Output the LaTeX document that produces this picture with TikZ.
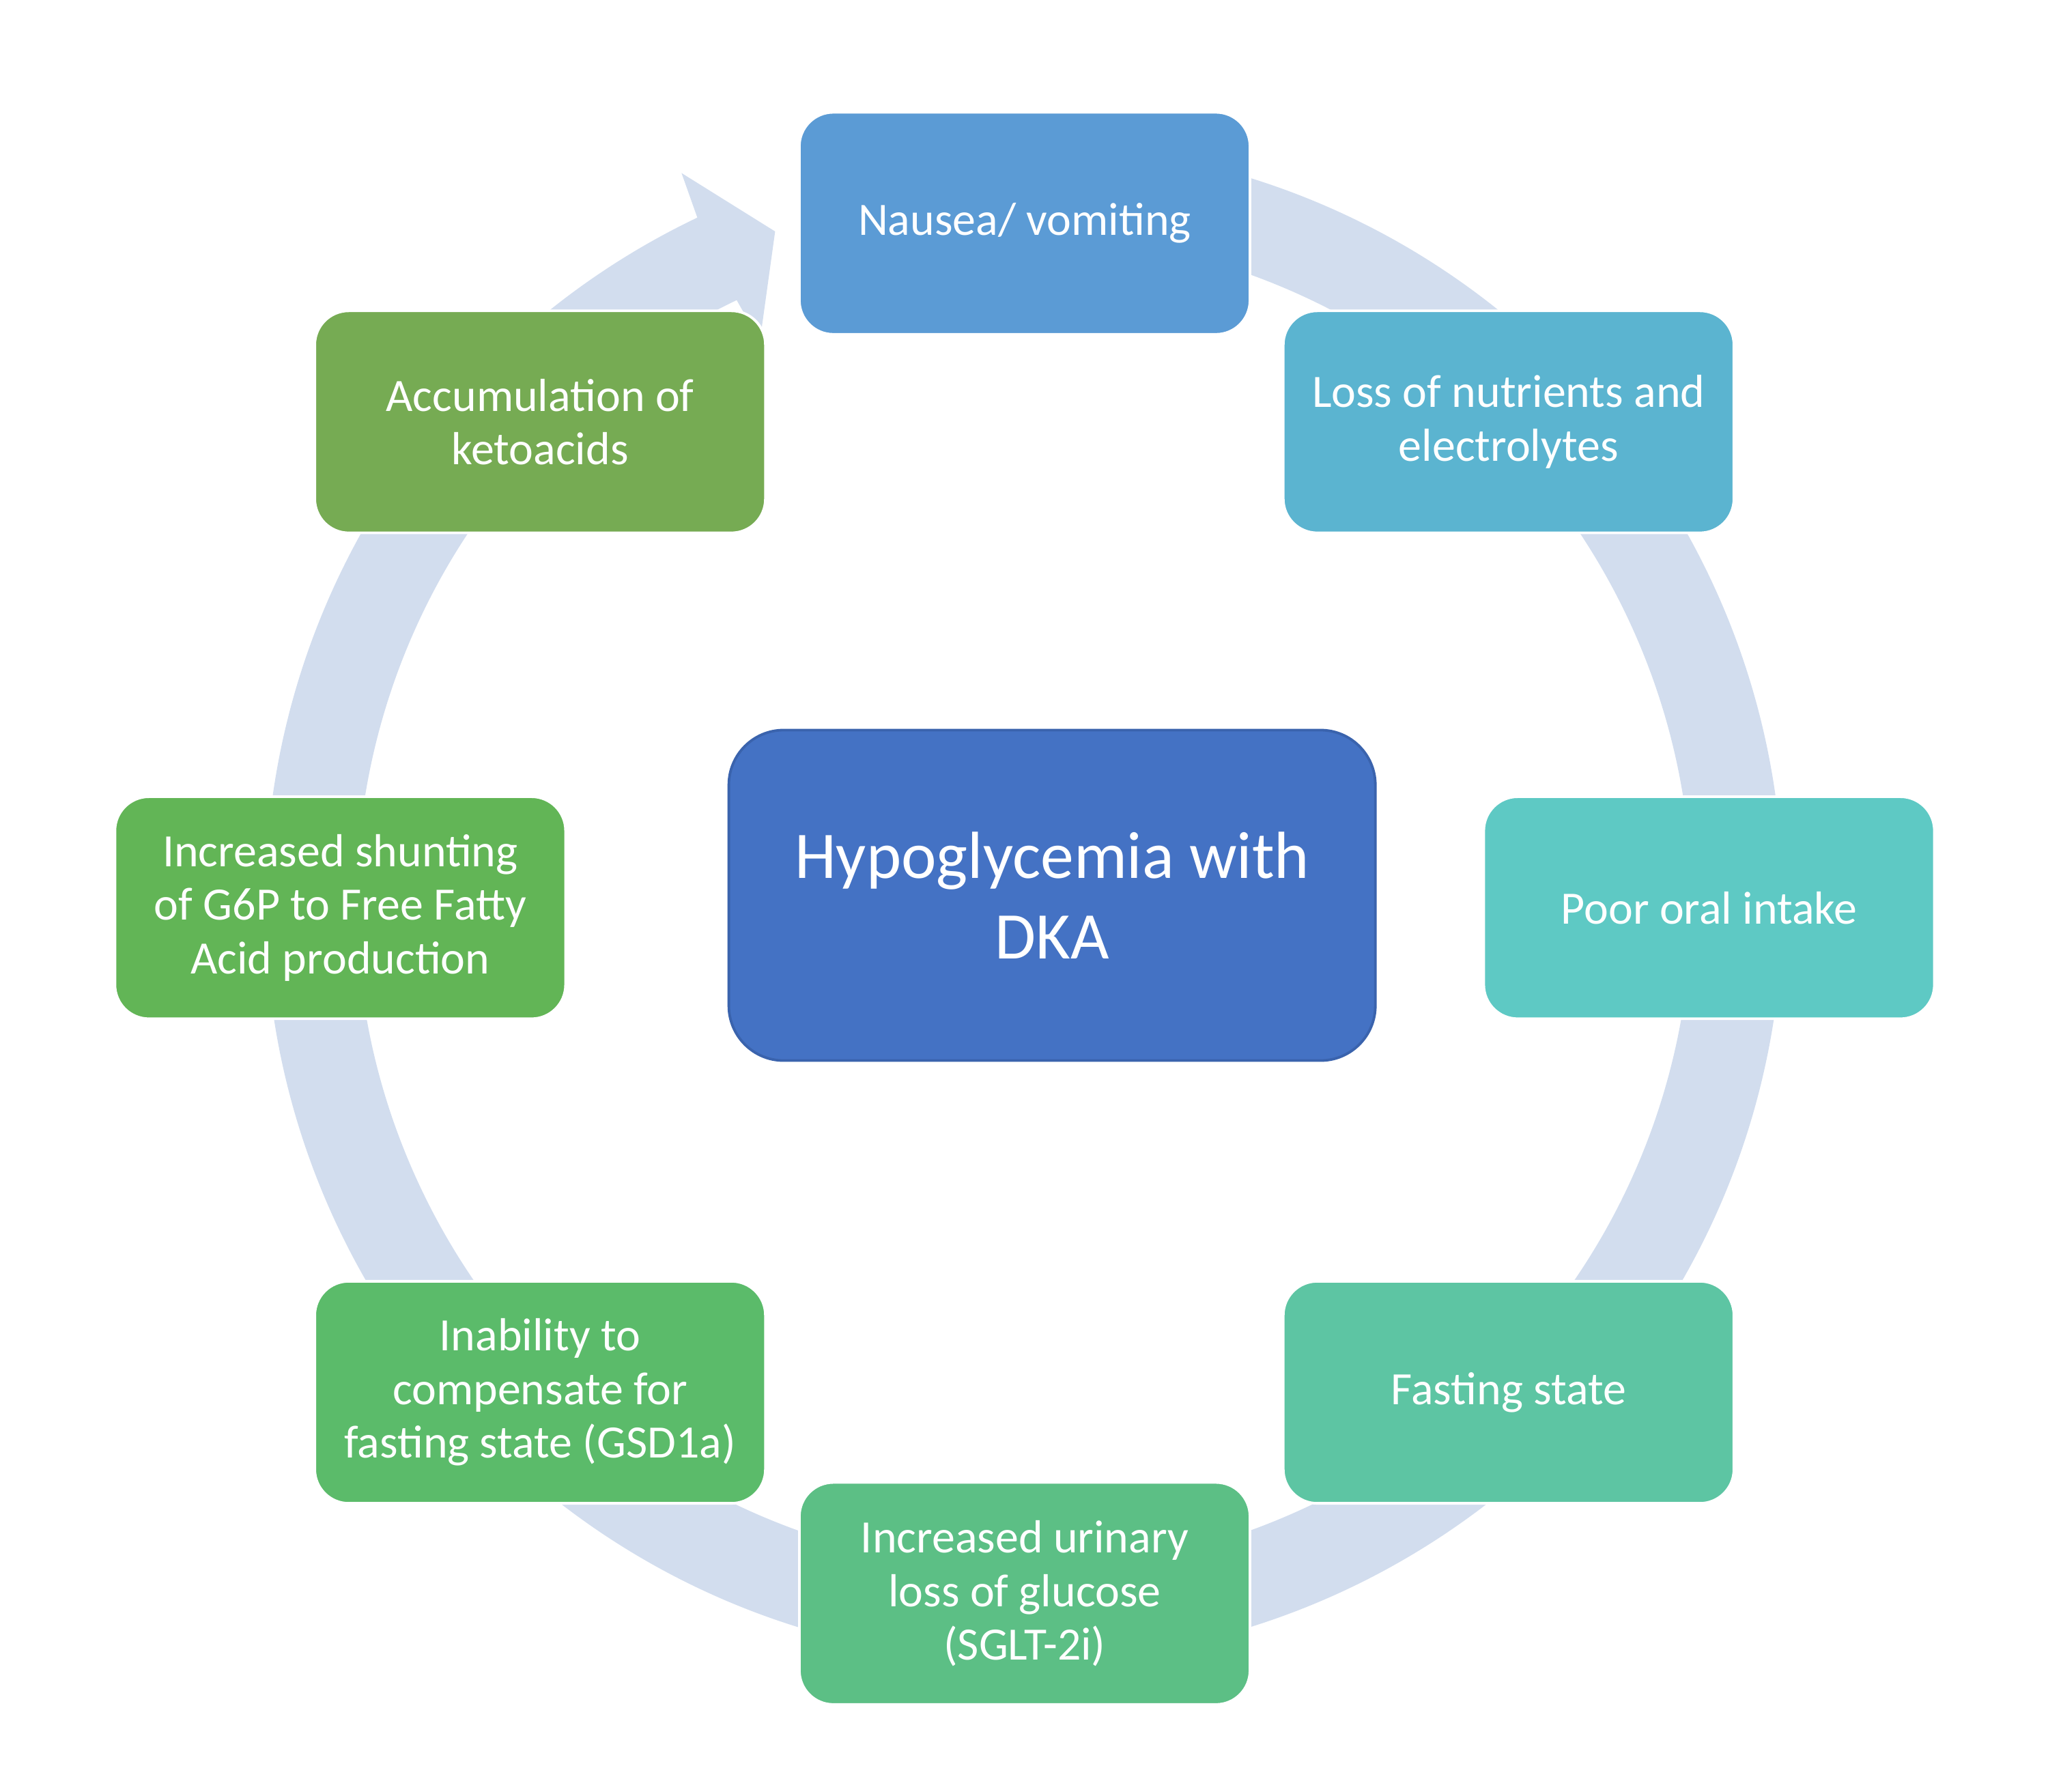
\documentclass[tikz,border=0pt]{standalone}
\usepackage{fontspec}
\setmainfont{Carlito}
\definecolor{ringc}{HTML}{D2DDEE}
\definecolor{cNausea}{HTML}{5B9BD5}
\definecolor{cLoss}{HTML}{5BB4D0}
\definecolor{cPoor}{HTML}{5EC9C4}
\definecolor{cFast}{HTML}{5DC5A3}
\definecolor{cUrin}{HTML}{5CBF85}
\definecolor{cInab}{HTML}{5BBB6A}
\definecolor{cShunt}{HTML}{62B556}
\definecolor{cAccum}{HTML}{76AB53}
\definecolor{cCenter}{HTML}{4472C4}
\definecolor{cCenterB}{HTML}{3A63AD}
\tikzset{
  cycbox/.style={rectangle, rounded corners=26pt, minimum width=345pt, minimum height=170pt,
    inner sep=0pt, text=white, align=center, draw=white, line width=2pt,
    font=\fontsize{35.5}{41}\selectfont},
  hubbox/.style={rectangle, rounded corners=42pt, minimum width=495pt, minimum height=253pt,
    inner sep=0pt, text=white, align=center, fill=cCenter, draw=cCenterB, line width=2pt,
    font=\fontsize{51}{62}\selectfont}
}
\begin{document}
\begin{tikzpicture}[x=1pt,y=1pt]
\useasboundingbox (0,0) rectangle (1568,1372);
% circular arrow
\begin{scope}[shift={(784,681)}]
\fill[ringc] (85:581pt) arc[start angle=85, end angle=-244.5, radius=581pt]
  -- (115.15:617pt) -- (110.35:548pt) -- (115.2:475pt) -- (115.5:511pt)
  arc[start angle=-244.5, end angle=85, radius=511pt] -- cycle;
\end{scope}
% boxes
\node[cycbox, fill=cNausea] (nausea) at (784.5,1201) {Nausea/ vomiting};
\node[cycbox, fill=cLoss] (loss) at (1155,1049) {Loss of nutrients and\\electrolytes};
\node[cycbox, fill=cPoor] (poor) at (1308.5,677) {Poor oral intake};
\node[cycbox, fill=cFast] (fast) at (1155,306) {Fasting state};
\node[cycbox, fill=cUrin] (urin) at (784.5,152) {Increased urinary\\loss of glucose\\(SGLT-2i)};
\node[cycbox, fill=cInab] (inab) at (413.5,306) {Inability to\\compensate for\\fasting state (GSD1a)};
\node[cycbox, fill=cShunt] (shunt) at (260.5,677) {Increased shunting\\of G6P to Free Fatty\\Acid production};
\node[cycbox, fill=cAccum] (accum) at (413.5,1049) {Accumulation of\\ketoacids};
\node[hubbox] (hub) at (805.5,686.5) {Hypoglycemia with\\DKA};
\end{tikzpicture}
\end{document}
